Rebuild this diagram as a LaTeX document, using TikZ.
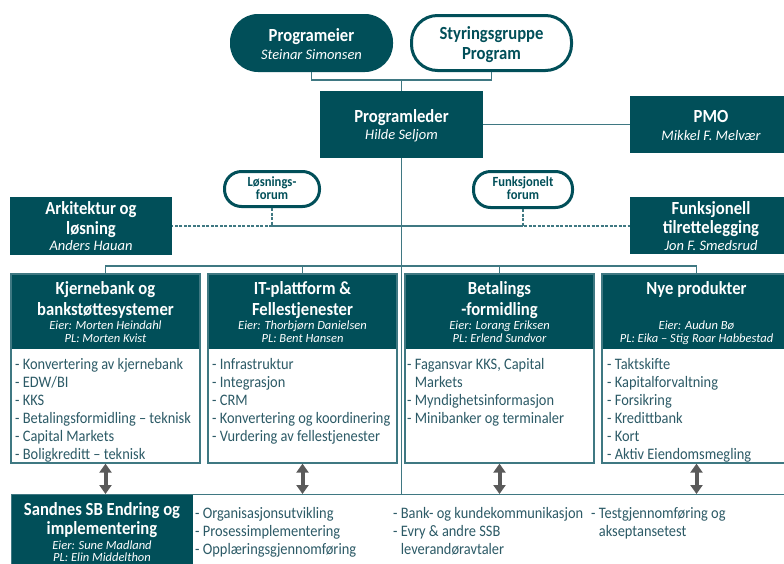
\documentclass[tikz,border=0pt]{standalone}
\usepackage{fontspec}
\setmainfont{Carlito}[FakeStretch=0.9]
\newfontfamily\itf{Carlito}
\usetikzlibrary{arrows.meta}
\definecolor{tealD}{HTML}{014F59}
\definecolor{lineT}{HTML}{3F7882}
\definecolor{listT}{HTML}{2C5A66}
\definecolor{arrG}{HTML}{5A5A5A}
\newcommand\FT{\fontsize{18.5}{21}\selectfont\bfseries}
\newcommand\FN{\itf\fontsize{14.5}{16}\selectfont\itshape}
\newcommand\FS{\itf\fontsize{12.5}{13}\selectfont\itshape}
\newcommand\FF{\fontsize{14}{12}\selectfont\bfseries}
\newcommand\TB[3]{\parbox[t]{#1}{\centering\lineskiplimit=-100pt\fontsize{12}{#2}\selectfont #3}}
\newcommand\LB[2]{\parbox[t]{#1}{\raggedright\fontsize{16}{18}\selectfont #2}}
\begin{document}
\begin{tikzpicture}[x=1pt,y=-1pt,
  dbox/.style={fill=tealD,draw=none,inner sep=0pt},
  pillD/.style={fill=tealD,draw=none,rounded corners=28pt,inner sep=0pt},
  pillW/.style={fill=white,draw=tealD,line width=3pt,inner sep=0pt},
  wbox/.style={draw=lineT,line width=1.3pt,fill=none,inner sep=0pt},
  conn/.style={draw=lineT,line width=1.3pt},
  dconn/.style={draw=lineT,line width=1.3pt,dash pattern=on 3pt off 1.5pt},
  darr/.style={draw=arrG,line width=4pt,{Triangle[length=9pt,width=12pt]}-{Triangle[length=9pt,width=12pt]}},
  txt/.style={inner sep=0pt,anchor=base},
  ltxt/.style={inner sep=0pt,anchor=base west,text=listT}
]
\useasboundingbox (0,0) rectangle (784,563);
\fill[white] (0,0) rectangle (784,563);

% ---- top level
\node[pillD,minimum width=163pt,minimum height=58pt] (pe) at (311.5,43) {};
\node[pillW,rounded corners=26pt,minimum width=160pt,minimum height=55pt] (sg) at (491.5,43) {};
\node[dbox,minimum width=163pt,minimum height=67pt] (pl) at (401.5,124.5) {};
\node[dbox,minimum width=162pt,minimum height=57pt] (pmo) at (711,124.5) {};

\node[txt,text=white] (peT) at (311.5,41.5) {\TB{160pt}{17.8}{{\FT Programeier}\\{\FN Steinar Simonsen}}};
\node[txt,text=tealD] (sgT) at (491.5,39.5) {\TB{160pt}{19.5}{{\FT Styringsgruppe}\\{\FT Program}}};
\node[txt,text=white] (plT) at (401.5,122.7) {\TB{160pt}{16.8}{{\FT Programleder}\\{\FN Hilde Seljom}}};
\node[txt,text=white] (pmoT) at (711,122.7) {\TB{160pt}{17.3}{{\FT PMO}\\{\FN Mikkel F. Melvær}}};

\coordinate (topj) at (401.5,80);
\draw[conn] (pe.south) |- (topj) -| (sg.south);
\draw[conn] (topj) -- (pl.north);
\draw[conn] (pl.east) -- (pmo.west);

% ---- forums and staff boxes
\node[pillW,rounded corners=17pt,minimum width=95pt,minimum height=35pt] (lf) at (272,189) {};
\node[pillW,rounded corners=17pt,minimum width=99pt,minimum height=36pt] (ff) at (523,189.5) {};
\node[txt,text=tealD] (lfT) at (272,186.5) {\TB{95pt}{12.5}{{\FF Løsnings-}\\{\FF forum}}};
\node[txt,text=tealD] (ffT) at (523,186.5) {\TB{99pt}{12.5}{{\FF Funksjonelt}\\{\FF forum}}};

\node[dbox,minimum width=162pt,minimum height=58pt] (ark) at (91,226) {};
\node[dbox,minimum width=162pt,minimum height=57pt] (fun) at (711,225.5) {};
\node[txt,text=white] (arkT) at (91,214.3) {\TB{160pt}{19.7}{{\FT Arkitektur og}\\{\FT løsning}\\[-3pt]{\FN Anders Hauan}}};
\node[txt,text=white] (funT) at (711,214) {\TB{160pt}{19.7}{{\FT Funksjonell}\\{\FT tilrettelegging}\\[-3pt]{\FN Jon F. Smedsrud}}};

\coordinate (mj) at (401.5,226);
\coordinate (lfj) at (272,226);
\coordinate (ffj) at (523,226);
\draw[conn] (lfj) -- (mj) -- (ffj);
\draw[dconn] (lf.south) -- (lfj) -- (ark.east |- lfj);
\draw[dconn] (ff.south) -- (ffj) -- (fun.west |- ffj);

% ---- bottom box
\node[dbox,anchor=north west,minimum width=182pt,minimum height=90pt] (sb) at (11,494) {};
\node[wbox,anchor=north west,minimum width=800pt,minimum height=90pt] (bot) at (11,494) {};
\node[txt,text=white] (sbT) at (102,515) {\TB{180pt}{19}{{\FT Sandnes SB Endring og}\\{\FT implementering}\\[-3.7pt]{\FS Eier: Sune Madland}\\[-6.6pt]{\FS PL: Elin Middelthon}}};
\node[ltxt] (b1) at (195,518.3) {\LB{200pt}{- Organisasjonsutvikling\\- Prosessimplementering\\- Opplæringsgjennomføring}};
\node[ltxt] (b2) at (393,518.3) {\LB{200pt}{- Bank- og kundekommunikasjon\\- Evry \& andre SSB\\\phantom{- }leverandøravtaler}};
\node[ltxt] (b3) at (591,518.3) {\LB{190pt}{- Testgjennomføring og\\\phantom{- }akseptansetest}};

% ---- columns
\foreach \i/\x in {1/105.5,2/302.5,3/499.5,4/696.5}{
  \node[dbox,minimum width=189pt,minimum height=75pt] (h\i) at (\x,311.5) {};
  \node[wbox,minimum width=189pt,minimum height=189pt] (c\i) at (\x,368.5) {};
}
\node[txt,text=white] (h1T) at (105.5,294) {\TB{187pt}{21}{{\FT Kjernebank og}\\{\FT bankstøttesystemer}\\[-6.7pt]{\FS Eier: Morten Heindahl}\\[-7.6pt]{\FS PL: Morten Kvist}}};
\node[txt,text=white] (h2T) at (302.5,294) {\TB{187pt}{21}{{\FT IT-plattform \&}\\{\FT Fellestjenester}\\[-6.7pt]{\FS Eier: Thorbjørn Danielsen}\\[-7.6pt]{\FS PL: Bent Hansen}}};
\node[txt,text=white] (h3T) at (499.5,294) {\TB{187pt}{21}{{\FT Betalings}\\{\FT -formidling}\\[-6.7pt]{\FS Eier: Lorang Eriksen}\\[-7.6pt]{\FS PL: Erlend Sundvor}}};
\node[txt,text=white] (h4T) at (696.5,294) {\TB{187pt}{21}{{\FT Nye produkter}\\[14.3pt]{\FS Eier: Audun Bø}\\[-7.6pt]{\FS PL: Eika – Stig Roar Habbestad}}};

\node[ltxt] (l1) at (15,369) {\LB{185pt}{- Konvertering av kjernebank\\- EDW/BI\\- KKS\\- Betalingsformidling – teknisk\\- Capital Markets\\- Boligkreditt – teknisk}};
\node[ltxt] (l2) at (212,369) {\LB{185pt}{- Infrastruktur\\- Integrasjon\\- CRM\\- Konvertering og koordinering\\- Vurdering av fellestjenester}};
\node[ltxt] (l3) at (407,369) {\LB{185pt}{- Fagansvar KKS, Capital\\\phantom{- }Markets\\- Myndighetsinformasjon\\- Minibanker og terminaler}};
\node[ltxt] (l4) at (607,369) {\LB{185pt}{- Taktskifte\\- Kapitalforvaltning\\- Forsikring\\- Kredittbank\\- Kort\\- Aktiv Eiendomsmegling}};

% ---- main spine and bus
\coordinate (busy) at (0,266);
\draw[conn] (pl.south) -- (pl.south |- bot.north);
\draw[conn] (h1.north) |- (h4.north |- busy) -- (h4.north);
\draw[conn] (h2.north) -- (h2.north |- busy);
\draw[conn] (h3.north) -- (h3.north |- busy);

% ---- arrows
\foreach \i in {1,2,3,4}{
  \draw[darr] (c\i.south) -- (c\i.south |- bot.north);
}
\end{tikzpicture}
\end{document}
